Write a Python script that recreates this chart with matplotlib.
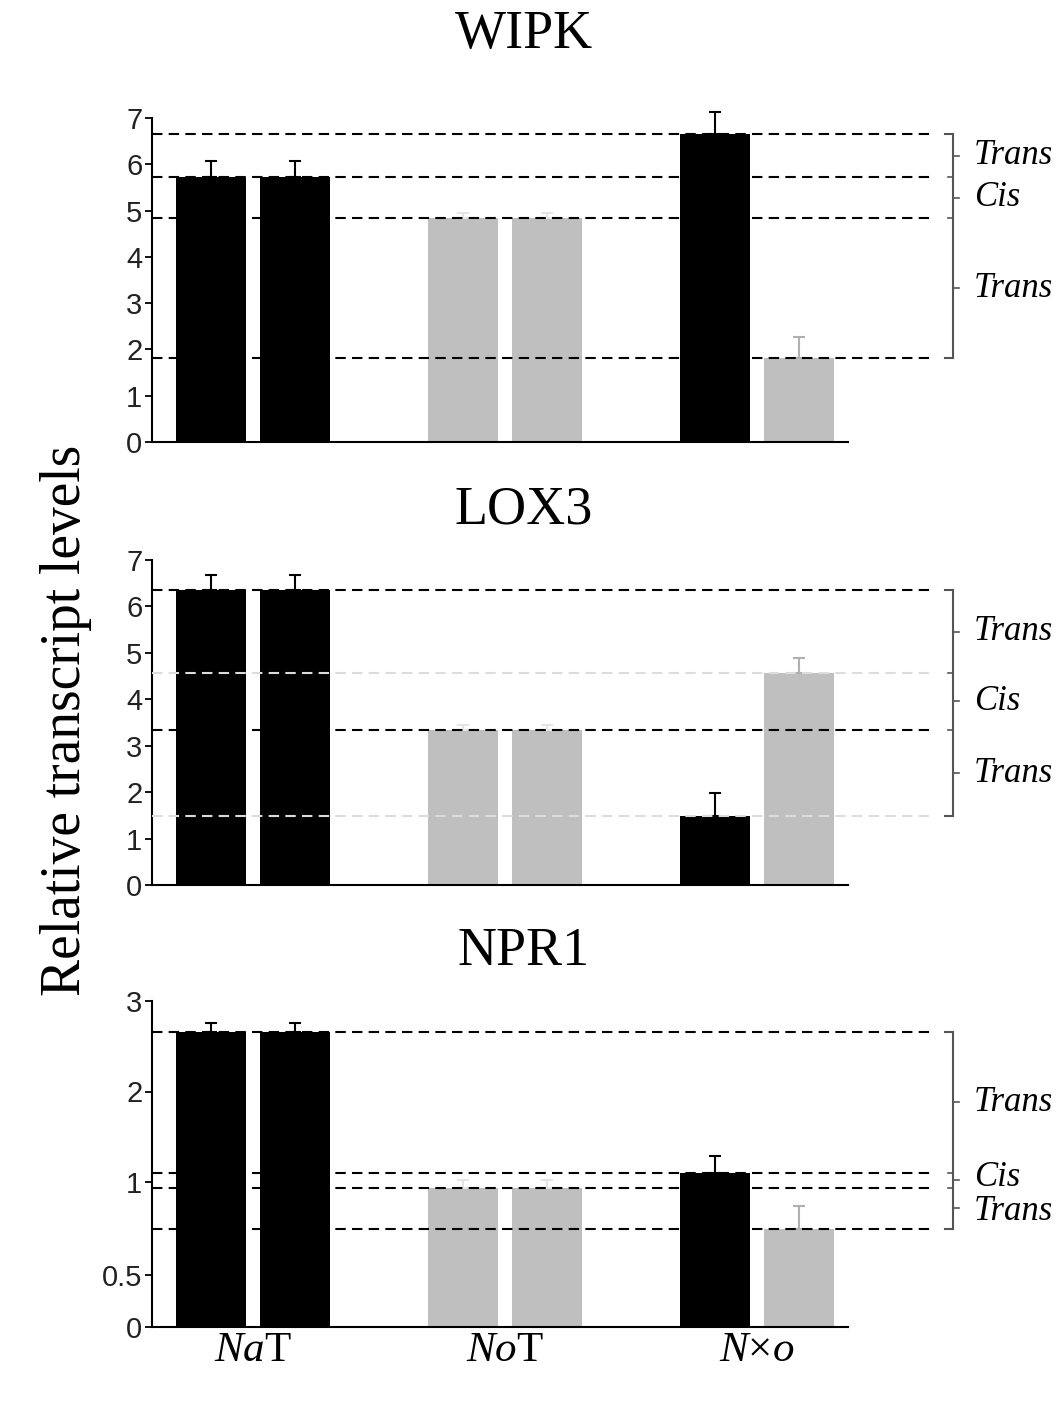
import numpy as np
import matplotlib
matplotlib.use("Agg")
import matplotlib.pyplot as plt

plt.rcParams['font.family'] = ['Liberation Sans', 'DejaVu Sans']
plt.rcParams['mathtext.fontset'] = 'custom'
plt.rcParams['mathtext.it'] = 'Liberation Serif:italic'
plt.rcParams['mathtext.rm'] = 'Liberation Serif'

# ---------------- data ----------------
categories = [r'$\mathit{Na}$T', r'$\mathit{No}$T', r'$\mathit{N}$×$\mathit{o}$']
bar_pos = [0, 1, 3, 4, 6, 7]
bar_colors = ['black', 'black', '#bfbfbf', '#bfbfbf', 'black', '#bfbfbf']
err_colors = ['black', 'black', '#e4e4e4', '#e4e4e4', 'black', '#b0b0b0']

wipk_vals = [5.72, 5.72, 4.84, 4.84, 6.65, 1.81]
wipk_err = [0.35, 0.35, 0.10, 0.10, 0.48, 0.46]
lox3_vals = [6.35, 6.35, 3.34, 3.34, 1.48, 4.57]
lox3_err = [0.32, 0.32, 0.10, 0.10, 0.50, 0.33]
npr1_vals = [2.66, 2.66, 0.97, 0.97, 1.10, 0.75]
npr1_err = [0.10, 0.10, 0.05, 0.05, 0.19, 0.12]

titles = ['WIPK', 'LOX3', 'NPR1']
seg_labels = ['Trans', 'Cis', 'Trans']
# reference lines: (value, colour)
wipk_lines = [(wipk_vals[4], 'black'), (wipk_vals[0], 'black'), (wipk_vals[2], 'black'), (wipk_vals[5], 'black')]
lox3_lines = [(lox3_vals[0], 'black'), (lox3_vals[5], '#dcdcdc'), (lox3_vals[2], 'black'), (lox3_vals[4], '#dcdcdc')]
npr1_lines = [(npr1_vals[0], 'black'), (npr1_vals[4], 'black'), (npr1_vals[2], 'black'), (npr1_vals[5], 'black')]

yticks_lin = [0, 1, 2, 3, 4, 5, 6, 7]
yticks_npr1 = [0, 0.5, 1, 2, 3]
ytick_labels_npr1 = ['0', '0.5', '1', '2', '3']

# piecewise scale for NPR1 axis
def fwd(y):
    y = np.asarray(y, float)
    return np.where(y < 0.5, y * 104.0,
                    np.where(y < 1.0, 52.0 + (y - 0.5) * 186.0, 145.0 + (y - 1.0) * 90.5))

def inv(p):
    p = np.asarray(p, float)
    return np.where(p < 52.0, p / 104.0,
                    np.where(p < 145.0, 0.5 + (p - 52.0) / 186.0, 1.0 + (p - 145.0) / 90.5))

W, H = 1059, 1402
fig = plt.figure(figsize=(W / 100, H / 100), dpi=100)

panels = [
    dict(vals=wipk_vals, err=wipk_err, lines=wipk_lines, top=118, bot=442, ylim=(0, 7), title_y=35),
    dict(vals=lox3_vals, err=lox3_err, lines=lox3_lines, top=560, bot=885, ylim=(0, 7), title_y=510),
    dict(vals=npr1_vals, err=npr1_err, lines=npr1_lines, top=1001, bot=1327, ylim=(0, 3), title_y=952),
]

xl, xr = 152, 848
serif = 'Liberation Serif'
min_sep = 34.0  # pixels between bracket labels

for i, p in enumerate(panels):
    ax = fig.add_axes([xl / W, 1 - p['bot'] / H, (xr - xl) / W, (p['bot'] - p['top']) / H])
    if i == 2:
        ax.set_yscale('function', functions=(fwd, inv))
    for xpos, v, e, c, ec in zip(bar_pos, p['vals'], p['err'], bar_colors, err_colors):
        ax.bar(xpos, v, width=0.833, color=c, zorder=2)
        eb = ax.errorbar(xpos, v, yerr=[[0], [e]], fmt='none', ecolor=ec, elinewidth=1.5,
                         capsize=4.3, capthick=1.5, zorder=3)
        for art in eb.lines[1] + eb.lines[2]:
            art.set_clip_on(False)
    ax.set_xlim(-0.70, 7.58)
    ax.set_ylim(*p['ylim'])
    for v, c in p['lines']:
        ax.plot([-0.70, 8.6], [v, v], ls=(0, (5, 3)), color=c, lw=1.5, zorder=4, clip_on=False)

    # bracket with segment labels
    levels = sorted([v for v, _ in p['lines']], reverse=True)
    ys = ax.yaxis.get_transform()
    bx = 8.83
    ax.plot([bx, bx], [levels[0], levels[-1]], color='#555555', lw=1.5, clip_on=False)
    for lv in (levels[0], levels[-1]):
        ax.plot([bx - 0.1, bx], [lv, lv], color='#555555', lw=1.5, clip_on=False)
    for lv in levels[1:-1]:
        ax.plot([bx - 0.06, bx], [lv, lv], color='#555555', lw=1.2, clip_on=False)

    # midpoints in scale space, converted to pixels for spacing
    ylo, yhi = ax.get_ylim()
    slo = float(np.ravel(ys.transform(np.array([ylo])))[0])
    shi = float(np.ravel(ys.transform(np.array([yhi])))[0])
    ppu = (p['bot'] - p['top']) / (shi - slo)  # pixels per scale unit
    mids_s = []
    for k in range(len(seg_labels)):
        pa = float(np.ravel(ys.transform(np.array([levels[k]])))[0])
        pb = float(np.ravel(ys.transform(np.array([levels[k + 1]])))[0])
        mids_s.append((pa + pb) / 2)
    lab_s = list(mids_s)
    for k in range(1, len(lab_s)):
        gap = (lab_s[k - 1] - lab_s[k]) * ppu
        if gap < min_sep:
            shift = (min_sep - gap) / 2 / ppu
            lab_s[k - 1] += shift
            lab_s[k] -= shift
    for k, lab in enumerate(seg_labels):
        mid = float(np.ravel(ys.inverted().transform(np.array([mids_s[k]])))[0])
        ly = float(np.ravel(ys.inverted().transform(np.array([lab_s[k]])))[0])
        ax.plot([bx, bx + 0.07], [mid, mid], color='#555555', lw=1.2, clip_on=False)
        ax.text(9.08, ly, lab, family=serif, style='italic', fontsize=25,
                ha='left', va='center', clip_on=False)

    for s in ('top', 'right'):
        ax.spines[s].set_visible(False)
    ax.spines['left'].set_linewidth(1.5)
    ax.spines['bottom'].set_linewidth(1.5)
    if i == 2:
        ax.set_yticks(yticks_npr1)
        ax.set_yticklabels(ytick_labels_npr1)
    else:
        ax.set_yticks(yticks_lin)
    ax.yaxis.set_minor_locator(matplotlib.ticker.NullLocator())
    ax.tick_params(axis='y', direction='out', length=5, width=1.3, labelsize=21,
                   labelcolor='#222222', pad=2)
    if i == 2:
        ax.set_xticks([0.5, 3.5, 6.5])
        ax.set_xticklabels(categories, family=serif, fontsize=31)
        ax.tick_params(axis='x', length=0, pad=3)
    else:
        ax.set_xticks([])
    fig.text(524 / W, 1 - p['title_y'] / H, titles[i], family=serif, fontsize=39,
             ha='center', va='center')

fig.text(66 / W, 1 - 720 / H, 'Relative transcript levels', family=serif, fontsize=40,
         rotation=90, ha='center', va='center')

fig.savefig('out.png', dpi=100)
